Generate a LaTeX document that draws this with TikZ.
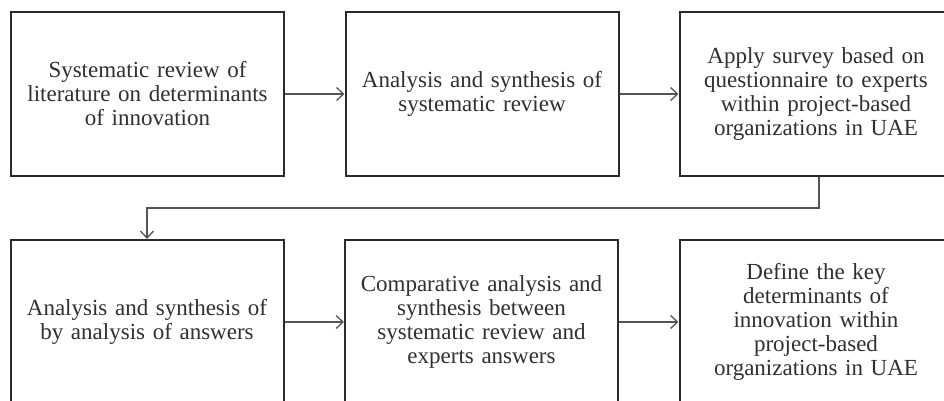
\documentclass[tikz,border=0pt]{standalone}
\usepackage{fontspec}
\setmainfont{Liberation Serif}
\usetikzlibrary{arrows.meta}
\definecolor{boxline}{HTML}{2B2B2B}
\definecolor{connline}{HTML}{555555}
\definecolor{txt}{HTML}{303030}
\begin{document}
\begin{tikzpicture}[x=1pt,y=-1pt,
  stepbox/.style={draw=boxline,line width=2pt,minimum width=273pt,minimum height=164pt,
    inner sep=0pt,text width=262pt,align=center,text=txt,
    font=\fontsize{23}{24}\selectfont},
  conn/.style={draw=connline,line width=1.3pt,-{Straight Barb[length=7pt,width=13pt,line width=1.3pt]}}]
\useasboundingbox[fill=white] (0,0) rectangle (944,401);
\begin{scope}
\clip (0,0) rectangle (944,401);
\node[stepbox] (b1) at (147.5,94) {Systematic review of\\literature on determinants\\of innovation};
\node[stepbox] (b2) at (482,94) {Analysis and synthesis of\\systematic review};
\node[stepbox] (b3) at (816,94) {Apply survey based on\\questionnaire to experts\\within project-based\\organizations in UAE};
\node[stepbox] (b4) at (147,322) {Analysis and synthesis of\\by analysis of answers};
\node[stepbox] (b5) at (481.5,322) {Comparative analysis and\\synthesis between\\systematic review and\\experts answers};
\node[stepbox] (b6) at (816,322) {Define the key\\determinants of\\innovation within\\project-based\\organizations in UAE};
\coordinate (turn) at (819,208);
\coordinate (mid) at (480,208);
\draw[conn] (b1.east) -- (b2.west);
\draw[conn] (b2.east) -- (b3.west);
\draw[conn] (b3.south -| turn) |- (mid) -| (b4.north);
\draw[conn] (b4.east) -- (b5.west);
\draw[conn] (b5.east) -- (b6.west);
\end{scope}
\end{tikzpicture}
\end{document}
